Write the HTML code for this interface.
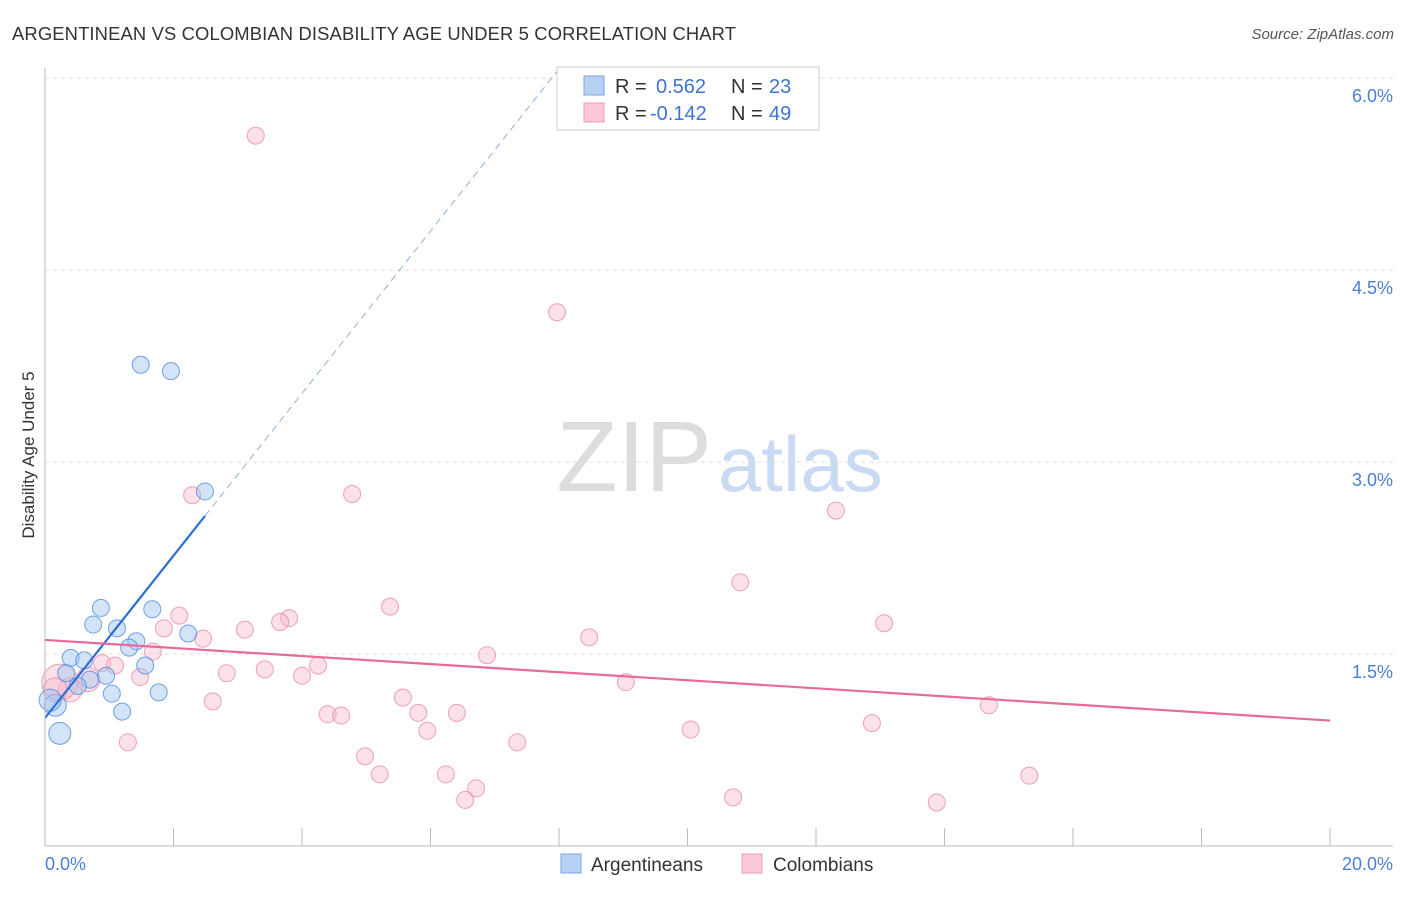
<!DOCTYPE html>
<html><head><meta charset="utf-8"><style>
body{margin:0;background:#fff;font-family:"Liberation Sans",sans-serif}
svg text{font-family:"Liberation Sans",sans-serif}
</style></head><body>
<svg id="c" width="1406" height="892">
<text x="12" y="40" font-size="18.4" fill="#333" textLength="724">ARGENTINEAN VS COLOMBIAN DISABILITY AGE UNDER 5 CORRELATION CHART</text>
<text x="1394" y="39" font-size="15" fill="#555" font-style="italic" text-anchor="end">Source: ZipAtlas.com</text>
<text x="712" y="491" font-size="100" fill="#ddd" text-anchor="end" font-family="Liberation Serif">ZIP</text>
<text x="718" y="491" font-size="78" fill="#c9daf2">atlas</text>
<text transform="translate(34,455) rotate(-90)" font-size="17" fill="#333" text-anchor="middle">Disability Age Under 5</text>
<g id="grid"></g><g id="pts"></g><g id="lines"></g>
<line x1="45" y1="68" x2="45" y2="846" stroke="#bbb"/>
<line x1="45" y1="846" x2="1393" y2="846" stroke="#bbb"/>
<text x="45" y="870" font-size="18" fill="#4a7fd6">0.0%</text>
<text x="1393" y="870" font-size="18" fill="#4a7fd6" text-anchor="end">20.0%</text>
<g>
<rect x="557" y="67" width="262" height="63" fill="#fff" stroke="#ccc"/>
<rect x="584" y="76" width="20" height="19" fill="#b7d0f3" stroke="#7ea6e0"/>
<rect x="584" y="103" width="20" height="19" fill="#fbc9d7" stroke="#eb9ab3"/>
<text x="615" y="93" font-size="20" fill="#333">R = <tspan x="656" fill="#3f74d4">0.562</tspan><tspan x="731">N = </tspan><tspan x="769" fill="#3f74d4">23</tspan></text>
<text x="615" y="120" font-size="20" fill="#333">R = <tspan x="650" fill="#3f74d4">-0.142</tspan><tspan x="731">N = </tspan><tspan x="769" fill="#3f74d4">49</tspan></text>
</g>
<g>
<rect x="561" y="854" width="20" height="19" fill="#b7d0f3" stroke="#7ea6e0"/>
<text x="591" y="871" font-size="19" fill="#333">Argentineans</text>
<rect x="742" y="854" width="20" height="19" fill="#fbc9d7" stroke="#eb9ab3"/>
<text x="773" y="871" font-size="19" fill="#333">Colombians</text>
</g>
</svg>
<script>
const blueX=[1.49,1.96,2.49,0.87,1.67,0.75,1.12,1.42,1.31,2.23,1.56,0.40,0.61,0.33,0.95,0.70,0.51,1.04,1.77,1.20,0.16,0.23,0.08];
const blueY=[3.76,3.71,2.77,1.86,1.85,1.73,1.70,1.60,1.55,1.66,1.41,1.47,1.45,1.35,1.33,1.30,1.25,1.19,1.20,1.05,1.10,0.88,1.14];
const pinkX=[3.28,7.97,2.29,4.78,12.31,10.82,5.37,2.09,3.80,3.66,13.06,3.11,1.85,2.46,8.47,1.68,6.88,4.25,3.42,2.83,4.00,1.48,0.89,1.09,9.04,5.57,2.61,14.69,4.40,4.61,5.81,6.41,5.95,10.05,12.87,1.29,7.35,4.98,5.21,6.24,15.32,6.71,6.54,10.71,13.88,0.67,0.39,0.23,0.16];
const pinkY=[5.55,4.17,2.74,2.75,2.62,2.06,1.87,1.80,1.78,1.75,1.74,1.69,1.70,1.62,1.63,1.52,1.49,1.41,1.38,1.35,1.33,1.32,1.43,1.41,1.28,1.16,1.13,1.10,1.03,1.02,1.04,1.04,0.90,0.91,0.96,0.81,0.81,0.70,0.56,0.56,0.55,0.45,0.36,0.38,0.34,1.30,1.22,1.28,1.22];
const yTicks=[1.5,3.0,4.5,6.0];
const yTickLabels=["1.5%","3.0%","4.5%","6.0%"];
const xTicks=[0,2,4,6,8,10,12,14,16,18,20];
const blueTrend=[1.0,0.634];
const pinkTrend=[1.61,-0.0315];
const NS='http://www.w3.org/2000/svg';
const sx=v=>45+v*64.25, sy=v=>846-v*128;
function mk(p,t,a){const e=document.createElementNS(NS,t);for(const k in a)e.setAttribute(k,a[k]);p.appendChild(e);return e;}
const grid=document.getElementById('grid'),pts=document.getElementById('pts'),lines=document.getElementById('lines');
yTicks.forEach((v,i)=>{
 const l=mk(grid,'line',{x1:45,x2:1393,y1:sy(v),y2:sy(v),stroke:'#ddd','stroke-dasharray':'4,4'});
 
 
 const t=mk(grid,'text',{x:1393,y:sy(v)+24,'font-size':18,fill:'#4a7fd6','text-anchor':'end'});
 t.textContent=yTickLabels[i];
 
 
});
xTicks.forEach(v=>{
 const l=mk(grid,'line',{x1:sx(v),x2:sx(v),y1:828,y2:846,stroke:'#bbb'});
 
 
});
pinkX.forEach((x,i)=>{
 const r=i==47?18:(i>=45?12:8.5);
 const c=mk(pts,'circle',{cx:sx(x),cy:sy(pinkY[i]),r:r,fill:'rgba(248,180,200,0.4)',stroke:'rgba(235,140,170,0.8)','stroke-width':1});
 
 
});
blueX.forEach((x,i)=>{
 const r=i>=20?11:8.5;
 const c=mk(pts,'circle',{cx:sx(x),cy:sy(blueY[i]),r:r,fill:'rgba(160,195,240,0.45)',stroke:'rgba(80,140,220,0.8)','stroke-width':1});
 
 
});
const bt=x=>blueTrend[0]+blueTrend[1]*x, pt=x=>pinkTrend[0]+pinkTrend[1]*x;
const l1=mk(lines,'line',{x1:sx(0),y1:sy(bt(0)),x2:sx(2.49),y2:sy(bt(2.49)),stroke:'#2a6fd6','stroke-width':2.2});


const xe=(6.05-blueTrend[0])/blueTrend[1];
const l2=mk(lines,'line',{x1:sx(2.49),y1:sy(bt(2.49)),x2:sx(xe),y2:sy(bt(xe)),stroke:'#8fb0e0','stroke-width':1,'stroke-dasharray':'7,5'});


const l3=mk(lines,'line',{x1:sx(0),y1:sy(pt(0)),x2:sx(20),y2:sy(pt(20)),stroke:'#e8699a','stroke-width':2.2});


</script>
</body></html>
